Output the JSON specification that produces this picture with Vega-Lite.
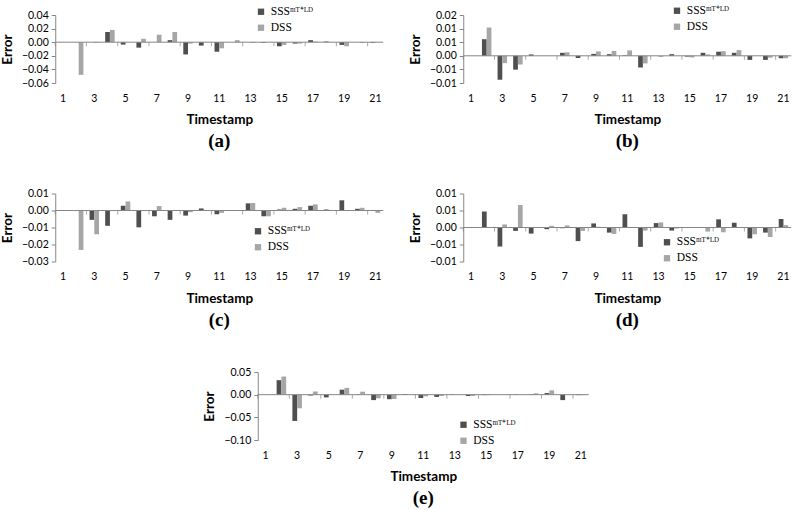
{
  "$schema": "https://vega.github.io/schema/vega-lite/v6.json",
  "padding": {"left": 0, "top": 5, "right": 0, "bottom": 2},
  "background": "white",
  "datasets": {
    "a": [
      {"t":1,"sss":0,"dss":0},{"t":2,"sss":0,"dss":-0.048},{"t":3,"sss":0,"dss":-0.001},{"t":4,"sss":0.015,"dss":0.018},
      {"t":5,"sss":-0.0035,"dss":0},{"t":6,"sss":-0.008,"dss":0.005},{"t":7,"sss":0,"dss":0.011},{"t":8,"sss":0.003,"dss":0.015},
      {"t":9,"sss":-0.018,"dss":-0.002},{"t":10,"sss":-0.005,"dss":0},{"t":11,"sss":-0.014,"dss":-0.009},{"t":12,"sss":0,"dss":0.003},
      {"t":13,"sss":0,"dss":-0.001},{"t":14,"sss":-0.001,"dss":0},{"t":15,"sss":-0.006,"dss":-0.004},{"t":16,"sss":-0.002,"dss":-0.002},
      {"t":17,"sss":0.003,"dss":0.001},{"t":18,"sss":0.001,"dss":0},{"t":19,"sss":-0.004,"dss":-0.006},{"t":20,"sss":0,"dss":-0.001},
      {"t":21,"sss":-0.001,"dss":0}
    ],
    "b": [
      {"t":1,"sss":0,"dss":0},{"t":2,"sss":0.0061,"dss":0.0104},{"t":3,"sss":-0.0088,"dss":-0.0027},{"t":4,"sss":-0.0051,"dss":-0.0032},
      {"t":5,"sss":0.0005,"dss":0},{"t":6,"sss":0,"dss":0},{"t":7,"sss":0.0011,"dss":0.0013},{"t":8,"sss":-0.0008,"dss":0},
      {"t":9,"sss":0.0007,"dss":0.0016},{"t":10,"sss":0.0006,"dss":0.0018},{"t":11,"sss":0.0002,"dss":0.002},{"t":12,"sss":-0.0043,"dss":-0.0028},
      {"t":13,"sss":0,"dss":-0.0004},{"t":14,"sss":0.0006,"dss":0},{"t":15,"sss":-0.0003,"dss":-0.0006},{"t":16,"sss":0.0011,"dss":0.0005},
      {"t":17,"sss":0.0015,"dss":0.0017},{"t":18,"sss":0.0011,"dss":0.0021},{"t":19,"sss":-0.0015,"dss":0},{"t":20,"sss":-0.0015,"dss":-0.0007},
      {"t":21,"sss":-0.0009,"dss":-0.0009}
    ],
    "c": [
      {"t":1,"sss":0,"dss":0},{"t":2,"sss":0,"dss":-0.0232},{"t":3,"sss":-0.0055,"dss":-0.014},{"t":4,"sss":-0.009,"dss":0},
      {"t":5,"sss":0.0028,"dss":0.0053},{"t":6,"sss":-0.0099,"dss":-0.0003},{"t":7,"sss":-0.0034,"dss":0.0026},{"t":8,"sss":-0.0055,"dss":0},
      {"t":9,"sss":-0.003,"dss":-0.001},{"t":10,"sss":0.0012,"dss":0},{"t":11,"sss":-0.0022,"dss":-0.0014},{"t":12,"sss":-0.0003,"dss":-0.0003},
      {"t":13,"sss":0.0042,"dss":0.0044},{"t":14,"sss":-0.0034,"dss":-0.0034},{"t":15,"sss":0.0006,"dss":0.0016},{"t":16,"sss":0.001,"dss":0.002},
      {"t":17,"sss":0.0028,"dss":0.0036},{"t":18,"sss":0.0006,"dss":0},{"t":19,"sss":0.006,"dss":0},{"t":20,"sss":0.001,"dss":0.0016},
      {"t":21,"sss":0,"dss":-0.0014}
    ],
    "d": [
      {"t":1,"sss":0,"dss":0},{"t":2,"sss":0.0047,"dss":0},{"t":3,"sss":-0.0056,"dss":0.0009},{"t":4,"sss":-0.001,"dss":0.0066},
      {"t":5,"sss":-0.0018,"dss":0},{"t":6,"sss":-0.0005,"dss":0.0005},{"t":7,"sss":-0.0002,"dss":0.0006},{"t":8,"sss":-0.004,"dss":-0.001},
      {"t":9,"sss":0.0012,"dss":0.0002},{"t":10,"sss":-0.0015,"dss":-0.0019},{"t":11,"sss":0.0039,"dss":0},{"t":12,"sss":-0.0057,"dss":-0.0009},
      {"t":13,"sss":0.0013,"dss":0.0015},{"t":14,"sss":-0.0009,"dss":-0.0003},{"t":15,"sss":0,"dss":0},{"t":16,"sss":0,"dss":-0.0012},
      {"t":17,"sss":0.0024,"dss":-0.0014},{"t":18,"sss":0.0014,"dss":0},{"t":19,"sss":-0.0032,"dss":-0.002},{"t":20,"sss":-0.0015,"dss":-0.0028},
      {"t":21,"sss":0.0025,"dss":0.0007}
    ],
    "e": [
      {"t":1,"sss":0,"dss":0},{"t":2,"sss":0.032,"dss":0.04},{"t":3,"sss":-0.058,"dss":-0.03},{"t":4,"sss":-0.002,"dss":0.007},
      {"t":5,"sss":-0.006,"dss":0},{"t":6,"sss":0.011,"dss":0.015},{"t":7,"sss":0.001,"dss":0.0066},{"t":8,"sss":-0.012,"dss":-0.008},
      {"t":9,"sss":-0.01,"dss":-0.0095},{"t":10,"sss":0.0015,"dss":0},{"t":11,"sss":-0.0073,"dss":-0.0037},{"t":12,"sss":-0.005,"dss":-0.003},
      {"t":13,"sss":0.001,"dss":0},{"t":14,"sss":-0.003,"dss":-0.003},{"t":15,"sss":-0.001,"dss":-0.001},{"t":16,"sss":0,"dss":0},
      {"t":17,"sss":0.001,"dss":0},{"t":18,"sss":0.001,"dss":0.003},{"t":19,"sss":0.0036,"dss":0.0095},{"t":20,"sss":-0.012,"dss":0},
      {"t":21,"sss":-0.001,"dss":-0.001}
    ]
  },
  "vconcat": [
    {
      "resolve": {"scale": {"color": "independent", "x": "independent", "y": "independent", "xOffset": "independent"}, "legend": {"color": "independent"}},
      "hconcat": [
        {
          "width": 328, "height": 68,
          "data": {"name": "a"},
          "transform": [{"fold": ["sss", "dss"], "as": ["k", "v"]}],
          "title": {"text": "(a)"},
          "layer": [
            {
              "mark": {"type": "bar"},
              "encoding": {
                "x": {"field": "t", "type": "ordinal", "title": "Timestamp", "scale": {"paddingInner": 0, "paddingOuter": 0}},
                "xOffset": {"field": "k", "scale": {"domain": ["sss", "dss"], "paddingOuter": 0.65, "paddingInner": 0}},
                "y": {"field": "v", "type": "quantitative", "title": "Error", "scale": {"domain": [-0.06, 0.04], "nice": false}, "axis": {"tickCount": 5, "format": ".2f"}},
                "color": {"field": "k", "scale": {"domain": ["sss", "dss"], "range": ["#4f4f4f", "#a6a6a6"]}, "legend": {"title": null, "legendX": 200, "legendY": -9, "labelExpr": "datum.label == 'sss' ? 'SSSᵐᵀ⁺ᴸᴰ' : 'DSS'"}}
              }
            },
            {"data": {"values": [{}]}, "mark": {"type": "rule", "color": "#868686"}, "encoding": {"y": {"datum": 0}}},
            {"transform": [{"filter": "datum.t % 2 == 1 && datum.k == 'sss'"}], "mark": {"type": "tick", "orient": "vertical", "size": 4, "thickness": 1, "yOffset": 2, "color": "#868686"}, "encoding": {"x": {"field": "t", "type": "ordinal", "bandPosition": 0}, "y": {"datum": 0}}}
          ]
        },
        {
          "width": 328, "height": 68,
          "data": {"name": "b"},
          "transform": [{"fold": ["sss", "dss"], "as": ["k", "v"]}],
          "title": {"text": "(b)"},
          "layer": [
            {
              "mark": {"type": "bar"},
              "encoding": {
                "x": {"field": "t", "type": "ordinal", "title": "Timestamp", "scale": {"paddingInner": 0, "paddingOuter": 0}},
                "xOffset": {"field": "k", "scale": {"domain": ["sss", "dss"], "paddingOuter": 0.65, "paddingInner": 0}},
                "y": {"field": "v", "type": "quantitative", "title": "Error", "scale": {"domain": [-0.01, 0.015], "nice": false}, "axis": {"tickCount": 5, "labelExpr": "datum.value == 0 ? '0.00' : format(datum.value + (datum.value > 0 ? 1e-9 : -1e-9), '.2f')"}},
                "color": {"field": "k", "scale": {"domain": ["sss", "dss"], "range": ["#4f4f4f", "#a6a6a6"]}, "legend": {"title": null, "legendX": 208, "legendY": -10, "labelExpr": "datum.label == 'sss' ? 'SSSᵐᵀ⁺ᴸᴰ' : 'DSS'"}}
              }
            },
            {"data": {"values": [{}]}, "mark": {"type": "rule", "color": "#868686"}, "encoding": {"y": {"datum": 0}}},
            {"transform": [{"filter": "datum.t % 2 == 1 && datum.k == 'sss'"}], "mark": {"type": "tick", "orient": "vertical", "size": 4, "thickness": 1, "yOffset": 2, "color": "#868686"}, "encoding": {"x": {"field": "t", "type": "ordinal", "bandPosition": 0}, "y": {"datum": 0}}}
          ]
        }
      ]
    },
    {
      "resolve": {"scale": {"color": "independent", "x": "independent", "y": "independent", "xOffset": "independent"}, "legend": {"color": "independent"}},
      "hconcat": [
        {
          "width": 328, "height": 68,
          "data": {"name": "c"},
          "transform": [{"fold": ["sss", "dss"], "as": ["k", "v"]}],
          "title": {"text": "(c)"},
          "layer": [
            {
              "mark": {"type": "bar"},
              "encoding": {
                "x": {"field": "t", "type": "ordinal", "title": "Timestamp", "scale": {"paddingInner": 0, "paddingOuter": 0}},
                "xOffset": {"field": "k", "scale": {"domain": ["sss", "dss"], "paddingOuter": 0.65, "paddingInner": 0}},
                "y": {"field": "v", "type": "quantitative", "title": "Error", "scale": {"domain": [-0.03, 0.01], "nice": false}, "axis": {"tickCount": 4, "format": ".2f"}},
                "color": {"field": "k", "scale": {"domain": ["sss", "dss"], "range": ["#4f4f4f", "#a6a6a6"]}, "legend": {"title": null, "legendX": 197, "legendY": 32, "labelExpr": "datum.label == 'sss' ? 'SSSᵐᵀ⁺ᴸᴰ' : 'DSS'"}}
              }
            },
            {"data": {"values": [{}]}, "mark": {"type": "rule", "color": "#868686"}, "encoding": {"y": {"datum": 0}}},
            {"transform": [{"filter": "datum.t % 2 == 1 && datum.k == 'sss'"}], "mark": {"type": "tick", "orient": "vertical", "size": 4, "thickness": 1, "yOffset": 2, "color": "#868686"}, "encoding": {"x": {"field": "t", "type": "ordinal", "bandPosition": 0}, "y": {"datum": 0}}}
          ]
        },
        {
          "width": 328, "height": 68,
          "data": {"name": "d"},
          "transform": [{"fold": ["sss", "dss"], "as": ["k", "v"]}],
          "title": {"text": "(d)"},
          "layer": [
            {
              "mark": {"type": "bar"},
              "encoding": {
                "x": {"field": "t", "type": "ordinal", "title": "Timestamp", "scale": {"paddingInner": 0, "paddingOuter": 0}},
                "xOffset": {"field": "k", "scale": {"domain": ["sss", "dss"], "paddingOuter": 0.65, "paddingInner": 0}},
                "y": {"field": "v", "type": "quantitative", "title": "Error", "scale": {"domain": [-0.01, 0.01], "nice": false}, "axis": {"tickCount": 4, "labelExpr": "datum.value == 0 ? '0.00' : format(datum.value + (datum.value > 0 ? 1e-9 : -1e-9), '.2f')"}},
                "color": {"field": "k", "scale": {"domain": ["sss", "dss"], "range": ["#4f4f4f", "#a6a6a6"]}, "legend": {"title": null, "legendX": 198, "legendY": 43, "labelExpr": "datum.label == 'sss' ? 'SSSᵐᵀ⁺ᴸᴰ' : 'DSS'"}}
              }
            },
            {"data": {"values": [{}]}, "mark": {"type": "rule", "color": "#868686"}, "encoding": {"y": {"datum": 0}}},
            {"transform": [{"filter": "datum.t % 2 == 1 && datum.k == 'sss'"}], "mark": {"type": "tick", "orient": "vertical", "size": 4, "thickness": 1, "yOffset": 2, "color": "#868686"}, "encoding": {"x": {"field": "t", "type": "ordinal", "bandPosition": 0}, "y": {"datum": 0}}}
          ]
        }
      ]
    },
    {
      "width": 331, "height": 68,
      "data": {"name": "e"},
      "transform": [{"fold": ["sss", "dss"], "as": ["k", "v"]}],
      "title": {"text": "(e)"},
      "layer": [
        {
          "mark": {"type": "bar"},
          "encoding": {
            "x": {"field": "t", "type": "ordinal", "title": "Timestamp", "scale": {"paddingInner": 0, "paddingOuter": 0}},
            "xOffset": {"field": "k", "scale": {"domain": ["sss", "dss"], "paddingOuter": 0.65, "paddingInner": 0}},
            "y": {"field": "v", "type": "quantitative", "title": "Error", "scale": {"domain": [-0.1, 0.05], "nice": false}, "axis": {"tickCount": 3, "format": ".2f"}},
            "color": {"field": "k", "scale": {"domain": ["sss", "dss"], "range": ["#4f4f4f", "#a6a6a6"]}, "legend": {"title": null, "legendX": 200, "legendY": 47, "labelExpr": "datum.label == 'sss' ? 'SSSᵐᵀ⁺ᴸᴰ' : 'DSS'"}}
          }
        },
        {"data": {"values": [{}]}, "mark": {"type": "rule", "color": "#868686"}, "encoding": {"y": {"datum": 0}}},
        {"transform": [{"filter": "datum.t % 2 == 1 && datum.k == 'sss'"}], "mark": {"type": "tick", "orient": "vertical", "size": 4, "thickness": 1, "yOffset": 2, "color": "#868686"}, "encoding": {"x": {"field": "t", "type": "ordinal", "bandPosition": 0}, "y": {"datum": 0}}}
      ]
    }
  ],
  "center": true,
  "spacing": 37.5,
  "resolve": {"scale": {"color": "independent", "x": "independent", "y": "independent", "xOffset": "independent"}, "legend": {"color": "independent"}},
  "config": {
    "view": {"stroke": null},
    "concat": {"spacing": 24},
    "axis": {"grid": false, "labelFont": "Lato", "labelFontSize": 10.5, "labelColor": "#000", "titleFont": "Lato", "titleFontWeight": "bold", "titleFontSize": 13.5, "titleColor": "#000", "domainColor": "#868686", "tickColor": "#868686"},
    "axisX": {"domain": false, "ticks": false, "labelAngle": 0, "labelPadding": 10, "titlePadding": 9, "labelExpr": "datum.value % 2 == 1 ? datum.label : ''"},
    "axisY": {"tickSize": 4, "labelPadding": 3, "titlePadding": 7, "labelOverlap": false},
    "legend": {"orient": "none", "symbolType": "square", "symbolSize": 40, "symbolStrokeWidth": 0, "labelFont": "Liberation Serif", "labelFontSize": 11.5, "labelColor": "#000", "labelOffset": 4, "rowPadding": 3, "padding": 0},
    "title": {"orient": "bottom", "font": "Liberation Serif", "fontWeight": "bold", "fontSize": 19, "color": "#000", "anchor": "middle", "offset": 6}
  }
}
